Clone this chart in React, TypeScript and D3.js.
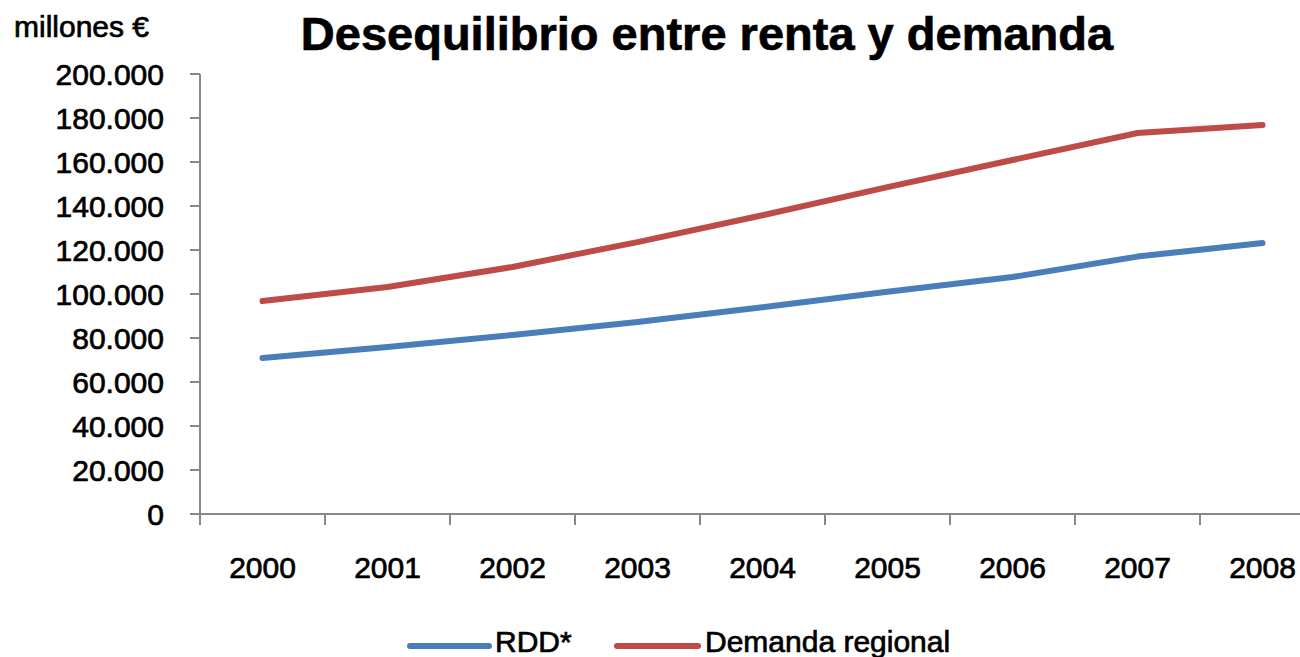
import React from 'react';
import * as d3 from 'd3';

// chart values
const years = ['2000', '2001', '2002', '2003', '2004', '2005', '2006', '2007', '2008'];
const rdd = [70900, 75900, 81400, 87300, 94000, 101000, 107700, 117000, 123200];
const demanda = [96800, 103200, 112300, 123600, 135800, 148600, 160900, 173200, 176800];
const yTicks = [0, 20000, 40000, 60000, 80000, 100000, 120000, 140000, 160000, 180000, 200000];
const seriesNames = ['RDD*', 'Demanda regional'];
const colors = ['#4A7EBB', '#BE4B48'];

const W = 1300;
const H = 657;
const font = '"Liberation Sans", Arial, sans-serif';

const es = d3.formatLocale({ decimal: ',', thousands: '.', grouping: [3], currency: ['', ' €'] });
const fmt = es.format(',');

export default function App() {
  const x = d3.scaleBand<string>().domain(years).range([200, 1325]).paddingInner(0).paddingOuter(0);
  const y = d3.scaleLinear().domain([0, 200000]).range([514, 74]);

  const line = d3
    .line<number>()
    .x((_, i) => (x(years[i]) as number) + x.bandwidth() / 2)
    .y((d) => y(d));

  const series = [rdd, demanda];
  const axisColor = '#878787';
  const boundaries = d3.range(years.length + 1).map((i) => 200 + i * x.step());
  // the source picture is a blown-up bitmap, its glyphs look a bit heavier
  const heavy = { stroke: '#000', strokeWidth: 0.7 };

  return (
    <svg
      width={W}
      height={H}
      style={{ position: 'absolute', left: 0, top: 0, background: '#fff' }}
      fontFamily={font}
    >
      <text x={707} y={50} textAnchor="middle" fontSize={47} fontWeight="bold" fill="#000" {...heavy}>
        Desequilibrio entre renta y demanda
      </text>
      <text x={14} y={37} fontSize={30} fill="#000" {...heavy}>
        millones €
      </text>

      {/* y axis */}
      <line x1={200} x2={200} y1={y(200000)} y2={y(0)} stroke={axisColor} strokeWidth={2} />
      {yTicks.map((t) => (
        <g key={t}>
          <line x1={190} x2={200} y1={y(t)} y2={y(t)} stroke={axisColor} strokeWidth={2} />
          <text x={164} y={y(t)} dy="0.37em" textAnchor="end" fontSize={30} fill="#000" {...heavy}>
            {fmt(t)}
          </text>
        </g>
      ))}

      {/* x axis */}
      <line x1={190} x2={W} y1={y(0)} y2={y(0)} stroke={axisColor} strokeWidth={2} />
      {boundaries.map((b) => (
        <line key={b} x1={b} x2={b} y1={y(0)} y2={y(0) + 11} stroke={axisColor} strokeWidth={2} />
      ))}
      {years.map((yr) => (
        <text
          key={yr}
          x={(x(yr) as number) + x.bandwidth() / 2}
          y={578}
          textAnchor="middle"
          fontSize={30}
          fill="#000"
          {...heavy}
        >
          {yr}
        </text>
      ))}

      {/* lines */}
      {series.map((s, i) => (
        <path
          key={seriesNames[i]}
          d={line(s) as string}
          fill="none"
          stroke={colors[i]}
          strokeWidth={6}
          strokeLinecap="round"
          strokeLinejoin="round"
        />
      ))}

      {/* legend */}
      <line x1={410} x2={489} y1={646} y2={646} stroke={colors[0]} strokeWidth={6} strokeLinecap="round" />
      <text x={495} y={652} fontSize={30} fill="#000" {...heavy}>
        {seriesNames[0]}
      </text>
      <line x1={617} x2={698} y1={646} y2={646} stroke={colors[1]} strokeWidth={6} strokeLinecap="round" />
      <text x={705} y={652} fontSize={30} fill="#000" {...heavy}>
        {seriesNames[1]}
      </text>
    </svg>
  );
}
